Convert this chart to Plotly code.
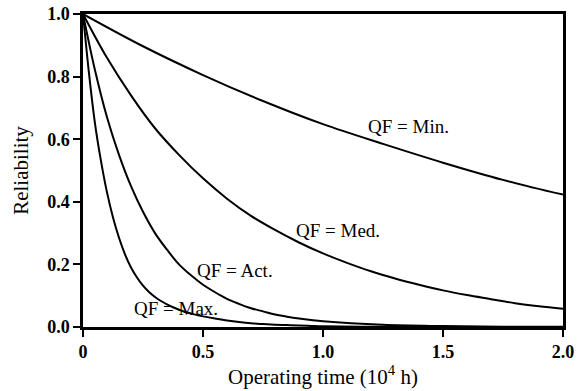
import plotly.graph_objects as go

# Operating time (10^4 h) and reliability
t_min = [0, 0.25, 0.5, 0.75, 1.0, 1.25, 1.5, 1.75, 2.0]
r_min = [1.0, 0.897, 0.805, 0.722, 0.648, 0.585, 0.525, 0.47, 0.423]

t_med = [0, 0.1, 0.2, 0.3, 0.4, 0.5, 0.6, 0.7, 0.8, 0.9, 1.0,
         1.1, 1.2, 1.3, 1.4, 1.5, 1.6, 1.7, 1.8, 1.9, 2.0]
r_med = [1.0, 0.86, 0.74, 0.635, 0.55, 0.475, 0.41, 0.355, 0.31, 0.27, 0.235,
         0.205, 0.178, 0.155, 0.135, 0.117, 0.102, 0.089, 0.076, 0.066, 0.058]

t_act = [0, 0.05, 0.1, 0.15, 0.2, 0.25, 0.3, 0.35, 0.4, 0.45, 0.5,
         0.55, 0.6, 0.65, 0.7, 0.75, 0.8, 0.85, 0.9, 0.95, 1.0,
         1.25, 1.5, 1.75, 2.0]
r_act = [1.0, 0.82, 0.67, 0.55, 0.45, 0.368, 0.30, 0.247, 0.20, 0.165, 0.135,
         0.111, 0.09, 0.074, 0.06, 0.05, 0.04, 0.033, 0.027, 0.022, 0.018,
         0.007, 0.003, 0.001, 0.0005]

t_max = [0, 0.025, 0.05, 0.075, 0.1, 0.125, 0.15, 0.175, 0.2, 0.225, 0.25,
         0.275, 0.3, 0.325, 0.35, 0.375, 0.4, 0.425, 0.45, 0.475, 0.5,
         0.55, 0.6, 0.65, 0.7, 0.75, 0.8, 0.85, 0.9, 0.95, 1.0,
         1.25, 1.5, 1.75, 2.0]
r_max = [1.0, 0.81, 0.65, 0.53, 0.43, 0.35, 0.285, 0.232, 0.19, 0.158, 0.132,
         0.112, 0.096, 0.083, 0.072, 0.063, 0.055, 0.048, 0.043, 0.038, 0.034,
         0.027, 0.021, 0.016, 0.012, 0.0095, 0.0075, 0.006, 0.0045, 0.0035, 0.0025,
         0.0007, 0.0002, 0.0, 0.0]

labels = ["QF = Min.", "QF = Med.", "QF = Act.", "QF = Max."]
label_x = [1.358, 1.0625, 0.633, 0.3875]
label_y = [0.639, 0.307, 0.182, 0.06]

x_ticks = [0, 0.5, 1.0, 1.5, 2.0]
x_ticktext = ["0", "0.5", "1.0", "1.5", "2.0"]
y_ticks = [0, 0.2, 0.4, 0.6, 0.8, 1.0]
y_ticktext = ["0.0", "0.2", "0.4", "0.6", "0.8", "1.0"]

SERIF = "Liberation Serif"

fig = go.Figure()
for tx, ry in [(t_min, r_min), (t_med, r_med), (t_act, r_act), (t_max, r_max)]:
    fig.add_trace(go.Scatter(x=tx, y=ry, mode="lines",
                             line=dict(color="black", width=2, shape="spline", smoothing=1.0),
                             showlegend=False, hoverinfo="skip"))

for txt, lx, ly in zip(labels, label_x, label_y):
    fig.add_annotation(x=lx, y=ly, text=txt, showarrow=False,
                       font=dict(family=SERIF, size=19, color="black"),
                       xanchor="center", yanchor="middle")

axis_common = dict(showline=True, linecolor="black", linewidth=2.5, mirror=True,
                   ticks="outside", ticklen=7, tickwidth=2, tickcolor="black",
                   showgrid=False, zeroline=False, automargin=False,
                   tickfont=dict(family=SERIF, size=18, color="black", weight="bold"))

fig.update_xaxes(range=[0, 2.0], tickvals=x_ticks, ticktext=x_ticktext,
                 title=dict(text="Operating time (10<sup>4</sup> h)",
                            font=dict(family=SERIF, size=21, color="black"), standoff=0),
                 **axis_common)
fig.update_yaxes(range=[0, 1.0], tickvals=y_ticks, ticktext=y_ticktext,
                 title=dict(text="Reliability",
                            font=dict(family=SERIF, size=21, color="black"), standoff=13),
                 **axis_common)

fig.update_layout(width=581, height=391,
                  margin=dict(l=83, r=18, t=14, b=64, autoexpand=False),
                  plot_bgcolor="white", paper_bgcolor="white")

fig.write_html("out.html", config={"displayModeBar": False},
               post_script="document.body.style.margin='0';document.body.style.overflow='hidden';")
